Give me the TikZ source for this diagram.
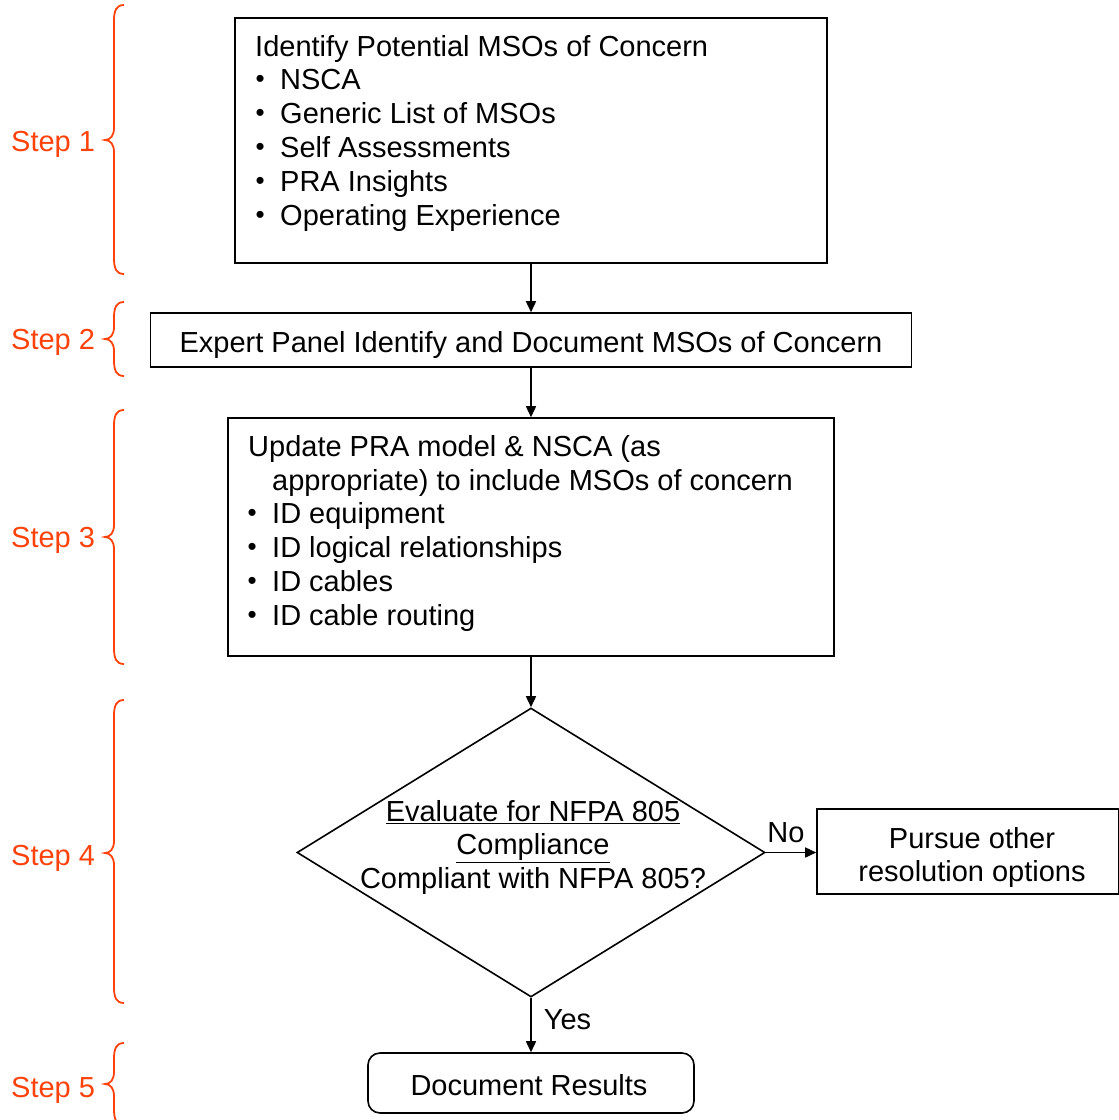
\documentclass[tikz,border=0pt]{standalone}
\usepackage{fontspec}
\setmainfont{Liberation Sans}
\usetikzlibrary{arrows.meta,shapes.geometric}
\definecolor{stepred}{RGB}{255,66,10}
\newcommand\stepbrace[3]{%
  \draw[bracestyle] (124,#1) .. controls (116,#1) and (114,{#1+6}) .. (114,{#1+16})
    -- (114,{#2-12}) .. controls (114,{#2-4}) and (110,#2) .. (105,#2)
    .. controls (110,#2) and (114,{#2+4}) .. (114,{#2+12})
    -- (114,{#3-16}) .. controls (114,{#3-6}) and (116,#3) .. (124,#3);}
\newcommand\bitem[1]{\llap{\raisebox{2.4pt}{\fontsize{26}{26}\selectfont\textbullet}\hspace{15.5pt}}#1}
\begin{document}
\begin{tikzpicture}[x=1pt,y=-1pt,
  every node/.style={font=\fontsize{29}{34}\selectfont, inner sep=0pt},
  box/.style={draw, line width=1.6pt, fill=white},
  txt/.style={anchor=base west},
  ctxt/.style={anchor=base},
  flow/.style={line width=1.6pt, -{Triangle[length=11pt,width=10pt]}},
  bracestyle/.style={draw=stepred, line width=1.8pt},
  steplabel/.style={anchor=base west, text=stepred}]
\useasboundingbox (0,0) rectangle (1119,1120);

% process boxes
\node[box, minimum width=592pt, minimum height=245pt] (box1) at (531,140.5) {};
\node[box, minimum width=761pt, minimum height=54pt] (box2) at (531,340) {};
\node[box, minimum width=606pt, minimum height=238pt] (box3) at (531,537) {};
\node[draw, line width=1.6pt, shape=diamond, aspect=1.62, minimum width=468pt, minimum height=289pt] (dec) at (531,852.5) {};
\node[box, minimum width=302pt, minimum height=85pt] (box4) at (968,851.5) {};
\node[box, rounded corners=12pt, minimum width=326pt, minimum height=60pt] (box5) at (531,1083) {};

% step 1 text
\node[txt] (t1a) at (255,56.5) {Identify Potential MSOs of Concern};
\node[txt] (t1b) at (280,89.5) {\bitem{NSCA}};
\node[txt] (t1c) at (280,123.5) {\bitem{Generic List of MSOs}};
\node[txt] (t1d) at (280,157.5) {\bitem{Self Assessments}};
\node[txt] (t1e) at (280,191.5) {\bitem{PRA Insights}};
\node[txt] (t1f) at (280,225.5) {\bitem{Operating Experience}};

% step 2 text
\node[ctxt] (t2) at (531,352.5) {Expert Panel Identify and Document MSOs of Concern};

% step 3 text
\node[txt] (t3a) at (248,456.5) {Update PRA model \& NSCA (as};
\node[txt] (t3b) at (272,490.5) {appropriate) to include MSOs of concern};
\node[txt] (t3c) at (272,523.5) {\bitem{ID equipment}};
\node[txt] (t3d) at (272,557.5) {\bitem{ID logical relationships}};
\node[txt] (t3e) at (272,591.5) {\bitem{ID cables}};
\node[txt] (t3f) at (272,625.5) {\bitem{ID cable routing}};

% decision text
\node[ctxt] (t4a) at (533,821.5) {\underline{Evaluate for NFPA 805}};
\node[ctxt] (t4b) at (533,854.5) {\underline{Compliance}};
\node[ctxt] (t4c) at (533,888.5) {Compliant with NFPA 805?};

% alternative outcome text
\node[ctxt] (t5a) at (972,848.5) {Pursue other};
\node[ctxt] (t5b) at (972,881.5) {resolution options};

% final step text
\node[ctxt] (t6) at (529,1095.5) {Document Results};

% connectors
\draw[flow] (box1.south) -- (box2.north);
\draw[flow] (box2.south) -- (box3.north);
\draw[flow] (box3.south) -- (dec.north);
\draw[flow] (dec.east) -- (dec.east -| box4.west) node[pos=0.4, above=9pt] (no) {No};
\draw[flow] (dec.south) -- (box5.north) node[pos=0.4, right=12pt] (yes) {Yes};

% step braces and labels
\stepbrace{5}{140}{274}
\stepbrace{302}{339}{376}
\stepbrace{410}{537}{664}
\stepbrace{700}{853}{1003}
\stepbrace{1043}{1084}{1125}
\node[steplabel] (s1) at (11,151.5) {Step 1};
\node[steplabel] (s2) at (11,349.5) {Step 2};
\node[steplabel] (s3) at (11,547.5) {Step 3};
\node[steplabel] (s4) at (11,865.5) {Step 4};
\node[steplabel] (s5) at (11,1097.5) {Step 5};
\end{tikzpicture}
\end{document}
